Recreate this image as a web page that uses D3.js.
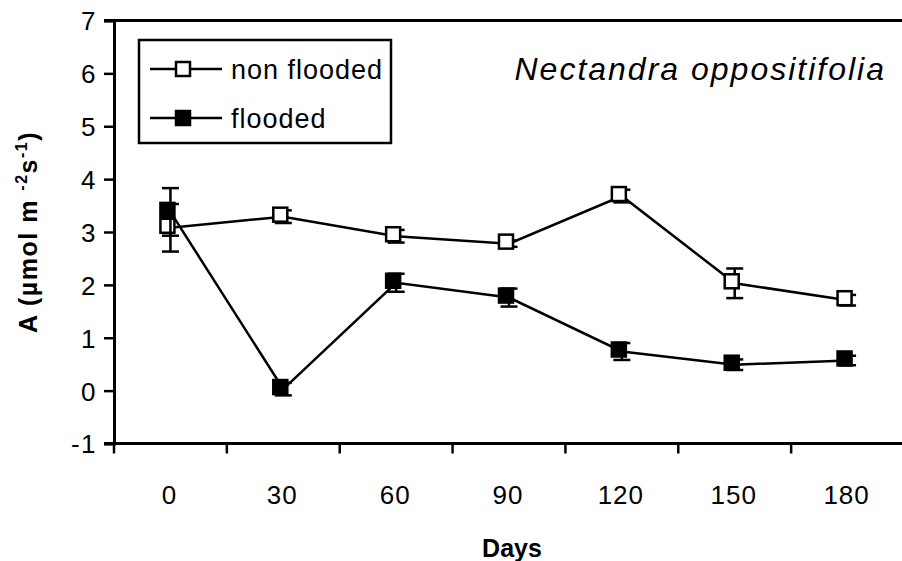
<!DOCTYPE html>
<html>
<head>
<meta charset="utf-8">
<script src="https://cdn.jsdelivr.net/npm/d3@7"></script>
<style>
  html, body { margin: 0; padding: 0; background: #fff; }
  svg { display: block; }
  text { font-family: "Liberation Sans", Arial, sans-serif; fill: #000; }
</style>
</head>
<body>
<svg id="chart" width="902" height="561"></svg>
<script>
// ---- data ----
const days = ["0", "30", "60", "90", "120", "150", "180"];
const nonFlooded   = [3.08, 3.29, 2.92, 2.78, 3.68, 2.03, 1.71];
const nonFloodedSE = [0.45, 0.12, 0.12, 0.06, 0.12, 0.28, 0.10];
const flooded      = [3.38, 0.03, 2.04, 1.76, 0.74, 0.49, 0.57];
const floodedSE    = [0.45, 0.12, 0.17, 0.17, 0.16, 0.10, 0.09];
const yTicks = [-1, 0, 1, 2, 3, 4, 5, 6, 7];
const yTickLabels = ["-1", "0", "1", "2", "3", "4", "5", "6", "7"];
const seriesNames = ["non flooded", "flooded"];
const title = "Nectandra oppositifolia";

// ---- layout ----
const svg = d3.select("#chart");
const mLeft = 114, mRight = 904, mTop = 20.5, mBottom = 443.5;

const x = d3.scaleBand().domain(days).range([mLeft, mRight]).padding(0);
const y = d3.scaleLinear().domain([-1, 7]).range([mBottom, mTop]);
const cx = d => x(d) + x.bandwidth() / 2;

// top border
svg.append("line").attr("x1", mLeft - 10).attr("x2", 902).attr("y1", y(7)).attr("y2", y(7))
  .attr("stroke", "#000").attr("stroke-width", 3);

// y axis
const yAxis = d3.axisLeft(y).tickValues(yTicks).tickSize(10).tickPadding(7)
  .tickFormat((d, i) => yTickLabels[i]);
const gy = svg.append("g").attr("transform", `translate(${mLeft},0)`).call(yAxis);
gy.select(".domain").attr("stroke-width", 3);
gy.selectAll(".tick line").attr("stroke-width", 2.5);
gy.selectAll(".tick text").style("font-size", "26px").style("letter-spacing", "1.5px").attr("dy", "0.36em")
  .style("font-family", "'Liberation Sans', Arial, sans-serif");

// x axis: line at y = -1, ticks at band boundaries
svg.append("line").attr("x1", mLeft - 10).attr("x2", 902).attr("y1", y(-1)).attr("y2", y(-1))
  .attr("stroke", "#000").attr("stroke-width", 3);
const bounds = days.map(d => x(d)).concat([x(days[days.length - 1]) + x.bandwidth()]);
svg.append("g").selectAll("line").data(bounds).join("line")
  .attr("x1", d => d).attr("x2", d => d)
  .attr("y1", y(-1)).attr("y2", y(-1) + 10)
  .attr("stroke", "#000").attr("stroke-width", 2.5);
svg.append("g").selectAll("text").data(days).join("text")
  .attr("x", d => cx(d) - 1).attr("y", 504)
  .attr("text-anchor", "middle")
  .style("font-size", "26px").style("letter-spacing", "1px")
  .text(d => d);

// axis titles
svg.append("text").attr("x", 512).attr("y", 557).attr("text-anchor", "middle")
  .style("font-size", "25px").style("font-weight", "bold").text("Days");

const yl = svg.append("text")
  .attr("transform", `translate(37,232) rotate(-90)`)
  .attr("text-anchor", "middle")
  .style("font-size", "25px").style("font-weight", "bold").style("letter-spacing", "1.5px");
yl.append("tspan").text("A (\u00b5mol m ");
yl.append("tspan").attr("dy", -10).style("font-size", "16px").text("-2");
yl.append("tspan").attr("dy", 10).text("s");
yl.append("tspan").attr("dy", -10).style("font-size", "16px").text("-1");
yl.append("tspan").attr("dy", 10).text(")");

// title
svg.append("text").attr("x", 886).attr("y", 80).attr("text-anchor", "end")
  .style("font-size", "32px").style("font-style", "italic").style("letter-spacing", "2px")
  .text(title);

// ---- series ----
const series = [
  { name: seriesNames[0], vals: nonFlooded, se: nonFloodedSE, fill: "#fff" },
  { name: seriesNames[1], vals: flooded, se: floodedSE, fill: "#000" }
];
const capW = 17, mk = 14, sw = 2.5;
const line = d3.line().x(d => cx(d.day)).y(d => y(d.v));

series.forEach(s => {
  const pts = days.map((d, i) => ({ day: d, v: s.vals[i], e: s.se[i] }));
  const g = svg.append("g");
  const eb = g.append("g").selectAll("g").data(pts).join("g");
  eb.append("line").attr("x1", d => cx(d.day)).attr("x2", d => cx(d.day))
    .attr("y1", d => y(d.v + d.e)).attr("y2", d => y(d.v - d.e))
    .attr("stroke", "#000").attr("stroke-width", sw);
  eb.append("line").attr("x1", d => cx(d.day) - capW / 2).attr("x2", d => cx(d.day) + capW / 2)
    .attr("y1", d => y(d.v + d.e)).attr("y2", d => y(d.v + d.e))
    .attr("stroke", "#000").attr("stroke-width", sw);
  eb.append("line").attr("x1", d => cx(d.day) - capW / 2).attr("x2", d => cx(d.day) + capW / 2)
    .attr("y1", d => y(d.v - d.e)).attr("y2", d => y(d.v - d.e))
    .attr("stroke", "#000").attr("stroke-width", sw);
  s.g = g; s.pts = pts;
});
series.forEach(s => {
  s.g.append("path").datum(s.pts).attr("d", line)
    .attr("fill", "none").attr("stroke", "#000").attr("stroke-width", sw);
});
series.forEach(s => {
  s.g.append("g").selectAll("rect").data(s.pts).join("rect")
    .attr("x", d => cx(d.day) - 3 - mk / 2).attr("y", d => y(d.v) - 2 - mk / 2)
    .attr("width", mk).attr("height", mk)
    .attr("fill", s.fill).attr("stroke", "#000").attr("stroke-width", sw);
});

// ---- legend ----
const lg = svg.append("g");
lg.append("rect").attr("x", 139).attr("y", 40).attr("width", 252).attr("height", 103)
  .attr("fill", "#fff").attr("stroke", "#000").attr("stroke-width", 2.5);
series.forEach((s, i) => {
  const ly = 69 + i * 49;
  lg.append("line").attr("x1", 150).attr("x2", 222).attr("y1", ly).attr("y2", ly)
    .attr("stroke", "#000").attr("stroke-width", sw);
  lg.append("rect").attr("x", 183 - mk / 2).attr("y", ly - mk / 2).attr("width", mk).attr("height", mk)
    .attr("fill", s.fill).attr("stroke", "#000").attr("stroke-width", sw);
  lg.append("text").attr("x", 231).attr("y", ly + 10)
    .style("font-size", "27px").style("letter-spacing", "1px").text(s.name);
});
</script>
</body>
</html>
